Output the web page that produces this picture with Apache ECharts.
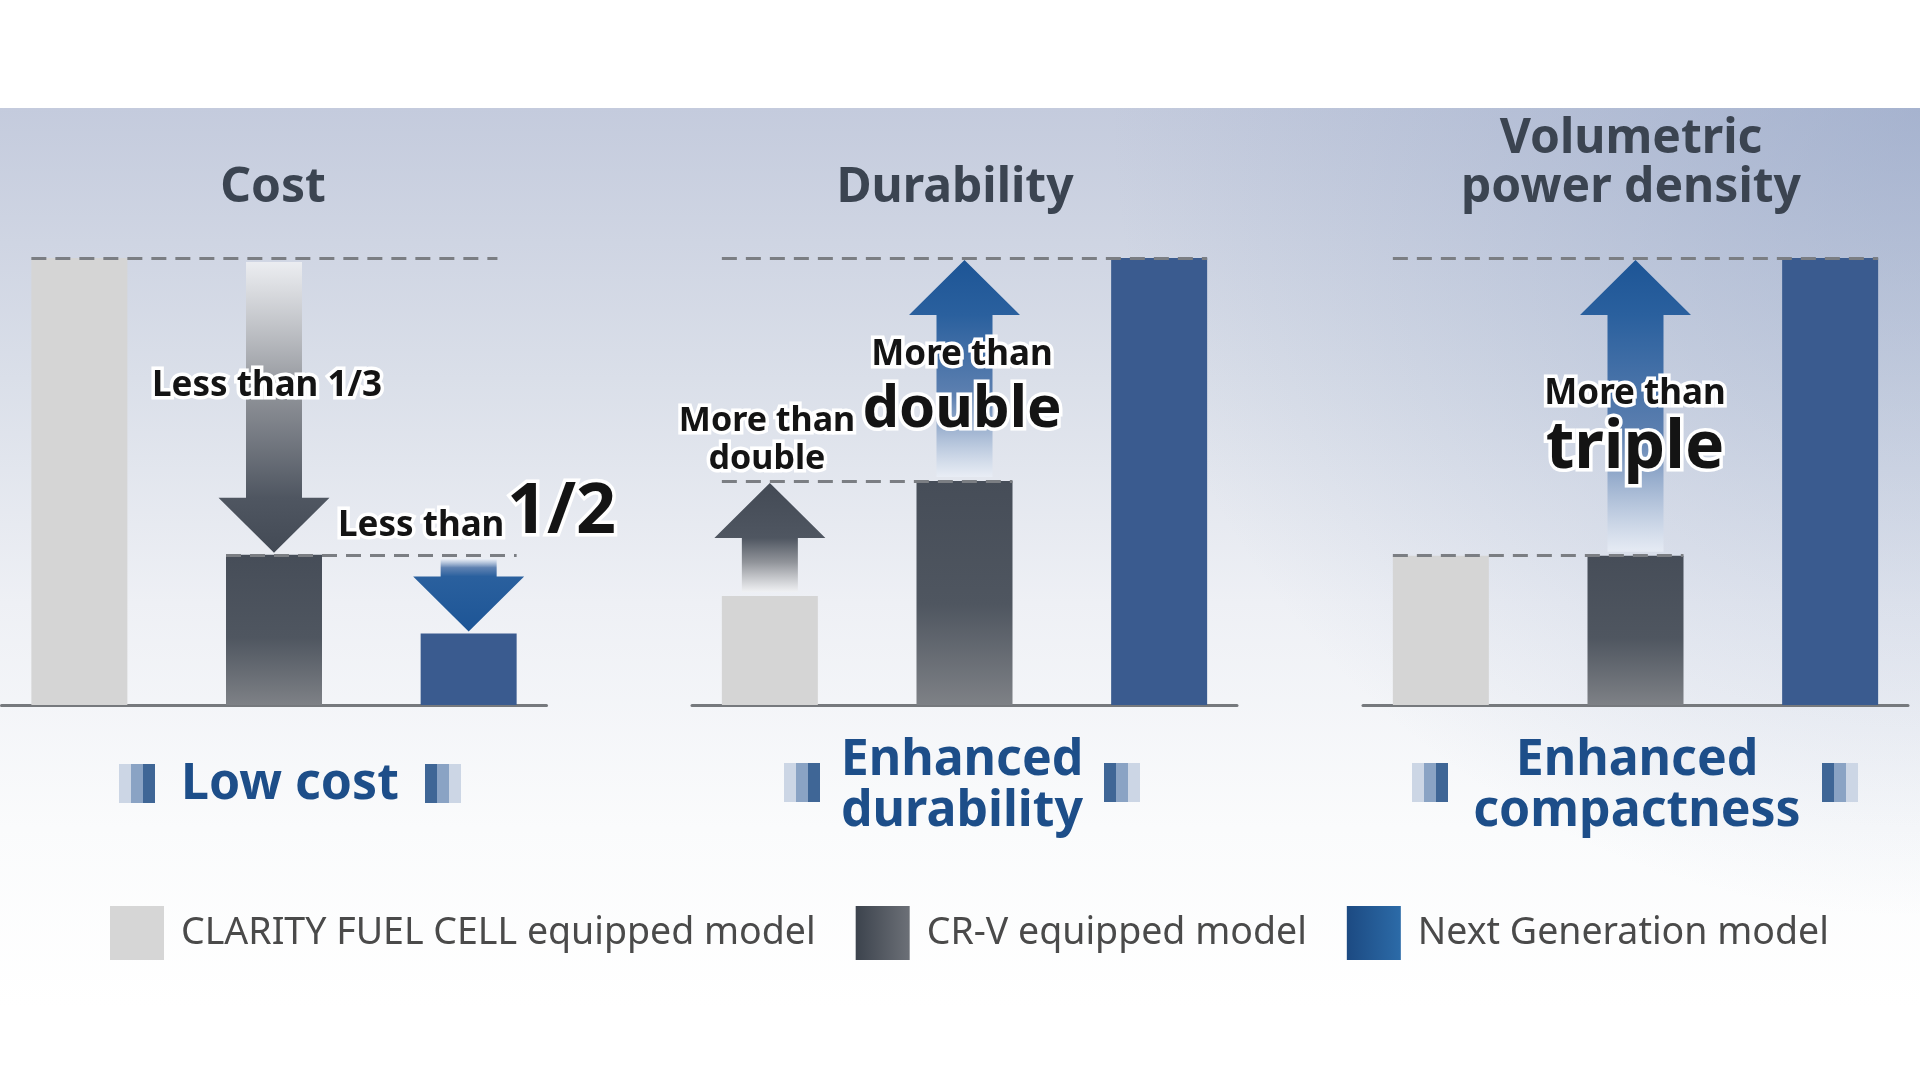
<!DOCTYPE html>
<html><head><meta charset="utf-8">
<script src="https://cdn.jsdelivr.net/npm/echarts@6/dist/echarts.min.js"></script>
<style>html,body{margin:0;padding:0;background:#fff}#c{width:1920px;height:1080px}</style>
</head><body><div id="c"></div>
<script>
// ---- data ----
const panels = ['Cost', 'Durability', 'Volumetric\npower density'];
const models = ['CLARITY FUEL CELL equipped model', 'CR-V equipped model', 'Next Generation model'];
const clarity = [100, 24.4, 33.4];
const crv = [33.6, 50.1, 33.4];
const nextGen = [16.0, 100, 100];
const outcomes = ['Low cost', 'Enhanced\ndurability', 'Enhanced\ncompactness'];
// arrows: [bar position, from value, to value, kind(0 dark,1 blue)]
const arrows = [
  [[2, clarity[0], crv[0], 0], [3, crv[0], nextGen[0], 1]],
  [[1, clarity[1], crv[1], 0], [2, crv[1], nextGen[1], 1]],
  [[2, crv[2], nextGen[2], 1]]
];

// ---- layout ----
const FONT = '"Noto Sans", "DejaVu Sans", sans-serif';
const gridLefts = [1.5, 692, 1363];
const GRID_W = 545, GRID_TOP = 258, GRID_H = 447;
const XMIN = 0.6, XMAX = 3.4, BAR_W = 96;
const hw = (BAR_W / 2) / (GRID_W / (XMAX - XMIN));

const G = echarts.graphic;
const crvColor = new G.LinearGradient(0, 0, 0, 1, [
  {offset: 0, color: '#464d58'}, {offset: 0.55, color: '#4f5660'}, {offset: 1, color: '#7e8186'}]);
const clarityColor = '#d5d5d5';
const nextColor = '#3a5b8f';

function renderArrow(params, api) {
  const x = api.value(0), from = api.value(1), to = api.value(2), kind = api.value(3);
  const p0 = api.coord([x, from]), p1 = api.coord([x, to]);
  const dir = p1[1] > p0[1] ? 1 : -1;
  const cx = p0[0];
  const y0 = p0[1] + dir * 4;
  const yTip = p1[1] - dir * 2;
  const headH = 55, headW = 111, shaftW = 56;
  const yHead = yTip - dir * headH;
  const pts = [[cx - shaftW / 2, y0], [cx + shaftW / 2, y0], [cx + shaftW / 2, yHead],
    [cx + headW / 2, yHead], [cx, yTip], [cx - headW / 2, yHead], [cx - shaftW / 2, yHead]];
  const len = Math.abs(yTip - y0);
  const hf = 1 - headH / len;
  let stops;
  if (kind === 0) {
    stops = [{offset: 0, color: 'rgba(240,241,243,0.85)'}, {offset: Math.max(0.05, hf * 0.55), color: 'rgba(140,143,149,0.95)'},
      {offset: hf, color: '#4f5661'}, {offset: 1, color: '#434a55'}];
  } else {
    stops = [{offset: 0, color: 'rgba(235,240,248,0.7)'}, {offset: Math.max(0.05, hf * 0.5), color: 'rgba(80,118,170,0.9)'},
      {offset: hf, color: '#2a609e'}, {offset: 1, color: '#1d5596'}];
  }
  const grad = dir > 0 ? new G.LinearGradient(0, 0, 0, 1, stops) : new G.LinearGradient(0, 1, 0, 0, stops);
  return {type: 'polygon', shape: {points: pts}, style: {fill: grad}, z2: 5};
}

const grids = [], xAxes = [], yAxes = [], series = [];
for (let i = 0; i < 3; i++) {
  grids.push({left: gridLefts[i], top: GRID_TOP, width: GRID_W, height: GRID_H});
  xAxes.push({type: 'value', gridIndex: i, min: XMIN, max: XMAX,
    axisLine: {show: true, onZero: false, lineStyle: {color: '#76797d', width: 3}},
    axisTick: {show: false}, axisLabel: {show: false}, splitLine: {show: false}});
  yAxes.push({type: 'value', gridIndex: i, min: 0, max: 100, show: false, splitLine: {show: false}});
  const midFrom = i === 0 ? 2 - hw : 1 - hw;
  const midTo = i === 0 ? 3 + hw : 2 + hw;
  const topVal = Math.max(clarity[i], crv[i], nextGen[i]);
  const topTo = i === 0 ? 3 + hw * 0.6 : 3 + hw;
  series.push({
    name: models[0], type: 'bar', xAxisIndex: i, yAxisIndex: i, barWidth: BAR_W, barGap: '-100%',
    itemStyle: {color: clarityColor}, data: [[1, clarity[i]]], z: 2,
    markLine: {silent: true, symbol: 'none', label: {show: false}, z: 3,
      lineStyle: {color: '#7b7e83', width: 3, type: [15, 9], opacity: 1},
      emphasis: {disabled: true},
      data: [
        [{coord: [1 - hw, topVal]}, {coord: [topTo, topVal]}],
        [{coord: [midFrom, crv[i]]}, {coord: [midTo, crv[i]]}]
      ]}
  });
  series.push({name: models[1], type: 'bar', xAxisIndex: i, yAxisIndex: i, barWidth: BAR_W, barGap: '-100%',
    itemStyle: {color: crvColor}, data: [[2, crv[i]]], z: 2});
  series.push({name: models[2], type: 'bar', xAxisIndex: i, yAxisIndex: i, barWidth: BAR_W, barGap: '-100%',
    itemStyle: {color: nextColor}, data: [[3, nextGen[i]]], z: 2});
  series.push({type: 'custom', xAxisIndex: i, yAxisIndex: i, renderItem: renderArrow,
    data: arrows[i], z: 4, silent: true});
}

// ---- graphics ----
function txt(x, y, text, size, color, opts) {
  opts = opts || {};
  const style = {text: text, fill: color, font: (opts.weight || 'bold') + ' ' + size + 'px ' + FONT,
    align: opts.align || 'center', verticalAlign: 'middle', lineHeight: opts.lh || size * 1.05};
  if (opts.halo) { style.stroke = '#ffffff'; style.lineWidth = opts.halo; }
  return {type: 'text', x: x, y: y, z: 100, style: style};
}
function bracket(x, y, flip) {
  const cols = flip ? ['#3f6696', '#8aa3c4', '#ccd6e5'] : ['#ccd6e5', '#8aa3c4', '#3f6696'];
  return {type: 'group', z: 90, children: cols.map((c, k) => ({type: 'rect',
    shape: {x: x + k * 12, y: y, width: 12, height: 39}, style: {fill: c}}))};
}

const graphic = [
  {type: 'rect', z: -20, silent: true, shape: {x: 0, y: 108, width: 1920, height: 900},
    style: {fill: new G.LinearGradient(0, 0, 0, 1, [
      {offset: 0, color: '#c4cbdd'}, {offset: 0.3, color: '#dadfe9'}, {offset: 0.55, color: '#eef0f5'},
      {offset: 0.8, color: '#fafbfc'}, {offset: 1, color: '#ffffff'}])}},
  {type: 'rect', z: -19, silent: true, shape: {x: 0, y: 108, width: 1920, height: 900},
    style: {fill: new G.RadialGradient(1, 0, 0.9, [
      {offset: 0, color: 'rgba(130,150,190,0.45)'}, {offset: 1, color: 'rgba(130,150,190,0)'}])}},
  txt(273, 188, panels[0], 48, '#3b4451'),
  txt(955, 188, panels[1], 48, '#3b4451'),
  txt(1631, 164, panels[2], 48, '#3b4451', {lh: 49}),
  txt(290, 785, outcomes[0], 50, '#1d4e89'),
  txt(962, 786, outcomes[1], 50, '#1d4e89', {lh: 51}),
  txt(1637, 786, outcomes[2], 50, '#1d4e89', {lh: 51}),
  bracket(119, 764, false), bracket(425, 764, true),
  bracket(784, 763, false), bracket(1104, 763, true),
  bracket(1412, 763, false), bracket(1822, 763, true),
  txt(267, 386, 'Less than 1/3', 35, '#141414', {halo: 7}),
  txt(338, 526, 'Less than', 35, '#141414', {halo: 7, align: 'left'}),
  txt(507, 513, '1/2', 70, '#141414', {halo: 7, align: 'left'}),
  txt(767, 440, 'More than\ndouble', 34, '#141414', {halo: 7, lh: 38}),
  txt(962, 355, 'More than', 35, '#141414', {halo: 7}),
  txt(962, 410, 'double', 58, '#141414', {halo: 7}),
  txt(1635, 394, 'More than', 35, '#141414', {halo: 7}),
  txt(1635, 449, 'triple', 66, '#141414', {halo: 7})
];

const chart = echarts.init(document.getElementById('c'), null, {renderer: 'canvas'});
chart.setOption({
  animation: false,
  backgroundColor: '#ffffff',
  grid: grids, xAxis: xAxes, yAxis: yAxes, series: series,
  graphic: graphic,
  legend: {
    left: 105, top: 901, itemWidth: 54, itemHeight: 54, itemGap: 40, selectedMode: false,
    icon: 'rect',
    textStyle: {fontSize: 37.5, fontFamily: FONT, color: '#4a4a4a', padding: [0, 0, 0, 12]},
    data: [
      {name: models[0], itemStyle: {color: '#d6d6d6'}},
      {name: models[1], itemStyle: {color: new G.LinearGradient(0, 0, 1, 0, [{offset: 0, color: '#3c434d'}, {offset: 1, color: '#6c7077'}])}},
      {name: models[2], itemStyle: {color: new G.LinearGradient(0, 0, 1, 0, [{offset: 0, color: '#1c4a82'}, {offset: 1, color: '#2c6ba8'}])}}
    ]
  }
});
</script></body></html>
